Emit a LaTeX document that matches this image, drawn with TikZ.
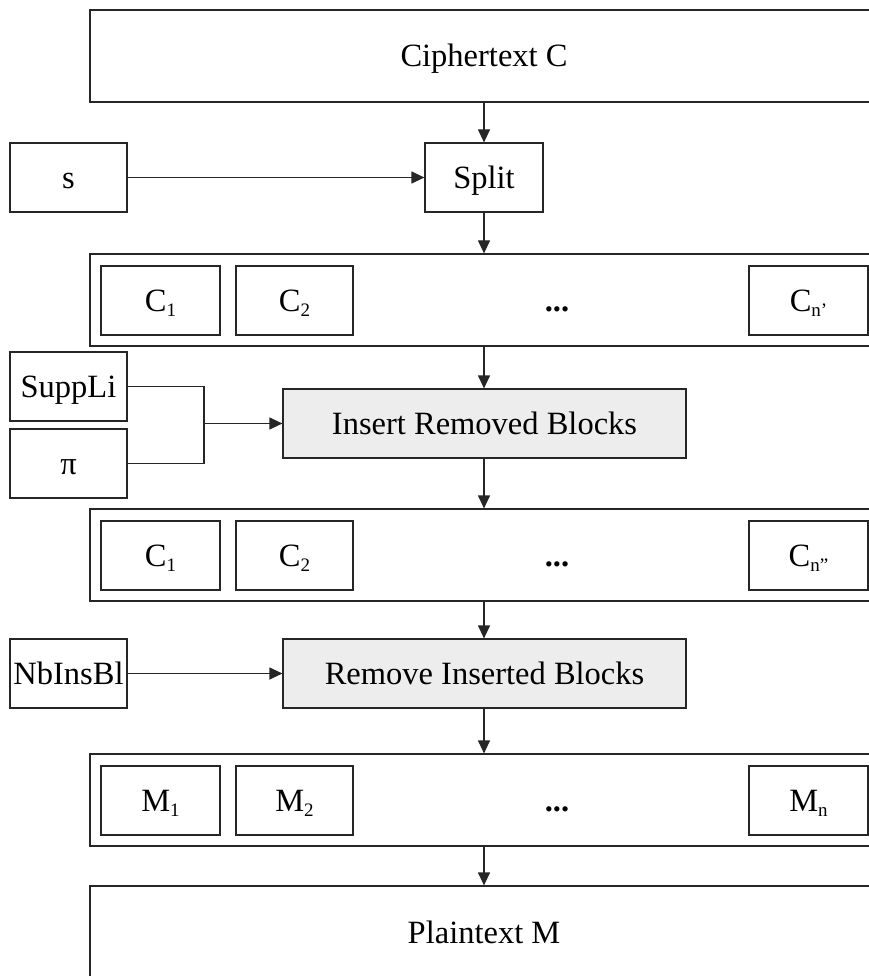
\documentclass[tikz,border=0pt]{standalone}
\usepackage{fontspec}
\setmainfont{Liberation Serif}
\usetikzlibrary{arrows.meta}

% subscript set as in the drawing: small figures sitting below the baseline
\newcommand{\lowsub}[1]{\raisebox{-5pt}{\fontsize{19}{19}\selectfont #1}}

\begin{document}
\begin{tikzpicture}[x=1pt,y=-1pt,
  every node/.style={inner sep=0pt, font=\fontsize{32.5}{39}\selectfont,
    text height=24pt, text depth=2.4pt},
  box/.style={draw=black!85, line width=1.2pt, fill=white},
  smallbox/.style={box, minimum width=117pt, minimum height=69pt},
  wide/.style={box, minimum width=788pt, minimum height=92pt},
  proc/.style={box, fill=black!7, minimum width=403pt, minimum height=69pt},
  conn/.style={draw=black!85, line width=1.2pt},
  arr/.style={conn, -{Triangle[length=13pt,width=12pt]}}
]
\useasboundingbox (0,0) rectangle (869,976);
\clip (0,0) rectangle (869,976);

% input ciphertext and splitting
\node[wide] (cipher) at (484,56) {Ciphertext C};
\node[smallbox] (s) at (68.5,177.5) {s};
\node[smallbox, minimum width=118pt] (split) at (484,177.5) {Split};

% first block row
\node[wide] (rowA) at (484,300) {};
\node[smallbox, minimum width=119pt] (a1) at (160.5,300.5) {C\lowsub{1}};
\node[smallbox] (a2) at (294.5,300.5) {C\lowsub{2}};
\node (adots) at (557,300.5) {\textbf{...}};
\node[smallbox, minimum width=119pt] (an) at (808.5,300.5) {C\lowsub{n’}};

% insertion of removed blocks
\node[smallbox] (supp) at (68.5,386.5) {SuppLi};
\node[smallbox] (pi) at (68.5,463.5) {π};
\node[proc] (insert) at (484.5,423.5) {Insert Removed Blocks};
\coordinate (mrg) at (204,423.5);

% second block row
\node[wide] (rowB) at (484,555) {};
\node[smallbox, minimum width=119pt] (b1) at (160.5,555.5) {C\lowsub{1}};
\node[smallbox] (b2) at (294.5,555.5) {C\lowsub{2}};
\node (bdots) at (557,555.5) {\textbf{...}};
\node[smallbox, minimum width=119pt] (bn) at (808.5,555.5) {C\lowsub{n”}};

% removal of inserted blocks
\node[smallbox] (nb) at (68.5,673.5) {NbInsBl};
\node[proc] (remove) at (484.5,673.5) {Remove Inserted Blocks};

% plaintext block row
\node[wide] (rowC) at (484,800) {};
\node[smallbox, minimum width=119pt] (c1) at (160.5,800.5) {M\lowsub{1}};
\node[smallbox] (c2) at (294.5,800.5) {M\lowsub{2}};
\node (cdots) at (557,800.5) {\textbf{...}};
\node[smallbox, minimum width=119pt] (cn) at (808.5,800.5) {M\lowsub{n}};

% output plaintext
\node[wide, minimum height=94pt] (plain) at (484,933) {Plaintext M};

% connectors
\draw[arr] (cipher.south -| split) -- (split.north);
\draw[arr] (s.east) -- (split.west);
\draw[arr] (split.south) -- (rowA.north -| split);
\draw[arr] (rowA.south -| split) -- (insert.north -| split);
\draw[conn] (supp.east) -| (mrg) |- (pi.east);
\draw[arr] (mrg) -- (insert.west);
\draw[arr] (insert.south -| split) -- (rowB.north -| split);
\draw[arr] (rowB.south -| split) -- (remove.north -| split);
\draw[arr] (nb.east) -- (remove.west);
\draw[arr] (remove.south -| split) -- (rowC.north -| split);
\draw[arr] (rowC.south -| split) -- (plain.north -| split);
\end{tikzpicture}
\end{document}
